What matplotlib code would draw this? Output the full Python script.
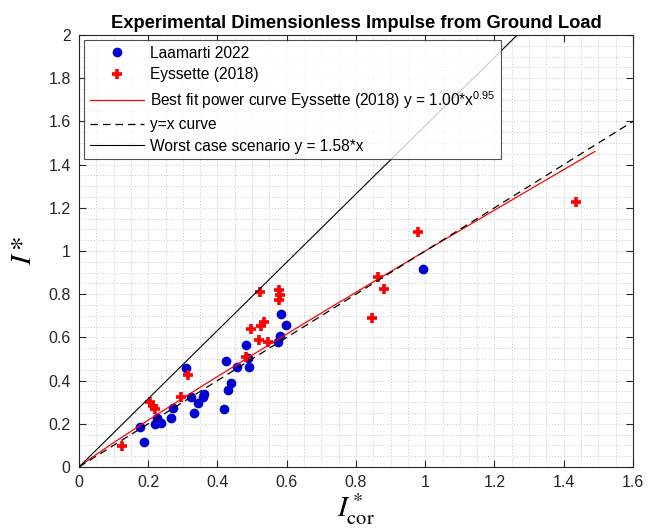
import numpy as np
import matplotlib
matplotlib.use("Agg")
import matplotlib.pyplot as plt
from matplotlib.ticker import MultipleLocator

plt.rcParams['font.family'] = ['Liberation Sans', 'DejaVu Sans']
plt.rcParams['mathtext.fontset'] = 'custom'
plt.rcParams['mathtext.rm'] = 'Liberation Sans'
plt.rcParams['mathtext.it'] = 'Liberation Sans:italic'
plt.rcParams['mathtext.bf'] = 'Liberation Sans:bold'

# Laamarti 2022 data
laamarti_x = [0.176, 0.188, 0.220, 0.224, 0.237, 0.265, 0.272, 0.309, 0.323, 0.333,
              0.345, 0.357, 0.361, 0.419, 0.424, 0.431, 0.438, 0.457, 0.481, 0.489,
              0.491, 0.574, 0.580, 0.583, 0.598, 0.993]
laamarti_y = [0.187, 0.117, 0.200, 0.225, 0.205, 0.228, 0.275, 0.457, 0.325, 0.248,
              0.298, 0.325, 0.338, 0.267, 0.491, 0.356, 0.390, 0.464, 0.565, 0.503,
              0.464, 0.580, 0.607, 0.708, 0.657, 0.918]

# Eyssette (2018) data
eyssette_x = [0.125, 0.205, 0.213, 0.220, 0.294, 0.314, 0.481, 0.498, 0.521, 0.527,
              0.534, 0.545, 0.523, 0.579, 0.580, 0.579, 0.845, 0.864, 0.882, 0.978,
              1.435]
eyssette_y = [0.097, 0.300, 0.282, 0.270, 0.326, 0.426, 0.508, 0.637, 0.588, 0.655,
              0.670, 0.580, 0.811, 0.819, 0.796, 0.773, 0.691, 0.881, 0.823, 1.090,
              1.227]

fit_a = 1.00
fit_b = 0.95
fit_xmax = 1.49
worst_k = 1.58

x_ticks = [0, 0.2, 0.4, 0.6, 0.8, 1.0, 1.2, 1.4, 1.6]
x_ticklabels = ['0', '0.2', '0.4', '0.6', '0.8', '1', '1.2', '1.4', '1.6']
y_ticks = [0, 0.2, 0.4, 0.6, 0.8, 1.0, 1.2, 1.4, 1.6, 1.8, 2.0]
y_ticklabels = ['0', '0.2', '0.4', '0.6', '0.8', '1', '1.2', '1.4', '1.6', '1.8', '2']

fig = plt.figure(figsize=(6.49, 5.30), dpi=100)
ax = fig.add_axes([0.1217, 0.1189, 0.8536, 0.8151])

tick_color = '#262626'

ax.plot(laamarti_x, laamarti_y, 'o', color='#0000d2', markersize=7, markeredgewidth=0,
        label='Laamarti 2022', zorder=3)
ax.plot(eyssette_x, eyssette_y, '+', color='red', markersize=7, markeredgewidth=2.6,
        label='Eyssette (2018)', zorder=3)

xf = np.linspace(0, fit_xmax, 300)
ax.plot(xf, fit_a * xf ** fit_b, '-', color='red', linewidth=0.9,
        label='Best fit power curve Eyssette (2018) y = 1.00*x$^{0.95}$', zorder=4)
xl = np.array([0, 1.6])
ax.plot(xl, xl, '--', color='black', linewidth=0.9, dashes=(6, 4),
        label='y=x curve', zorder=4)
ax.plot(xl, worst_k * xl, '-', color='black', linewidth=0.8,
        label='Worst case scenario y = 1.58*x', zorder=4)

ax.set_xlim(0, 1.6)
ax.set_ylim(0, 2)
ax.set_xticks(x_ticks)
ax.set_xticklabels(x_ticklabels)
ax.set_yticks(y_ticks)
ax.set_yticklabels(y_ticklabels)
ax.xaxis.set_minor_locator(MultipleLocator(0.05))
ax.yaxis.set_minor_locator(MultipleLocator(0.05))
ax.grid(True, which='both', linestyle=(0, (1, 2)), color='#c8c8c8', linewidth=0.7)
ax.set_axisbelow(True)
ax.tick_params(which='major', direction='in', top=True, right=True, length=5,
               width=0.8, color=tick_color, labelsize=11.5, labelcolor=tick_color, pad=6)
ax.tick_params(which='minor', length=0)
for s in ax.spines.values():
    s.set_color(tick_color)
    s.set_linewidth(0.8)

ax.set_title('Experimental Dimensionless Impulse from Ground Load', fontsize=13.2,
             fontweight='bold', pad=5)
ax.set_xlabel(r'$I^*_{\mathrm{cor}}$', fontsize=21, math_fontfamily='stix', labelpad=1)
ax.set_ylabel(r'$I*$', fontsize=21, math_fontfamily='stix', labelpad=8)

leg = ax.legend(loc='upper left', fontsize=11.2, frameon=True, fancybox=False,
                edgecolor=tick_color, handlelength=3.5, labelspacing=0.42,
                borderaxespad=0.35, handletextpad=0.35, borderpad=0.35)
leg.get_frame().set_linewidth(0.8)

fig.savefig('out.png', dpi=100)
